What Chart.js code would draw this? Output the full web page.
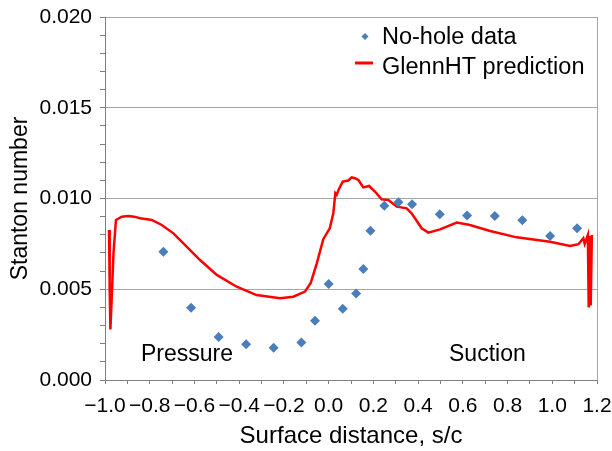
<!DOCTYPE html>
<html>
<head>
<meta charset="utf-8">
<script src="https://cdn.jsdelivr.net/npm/chart.js@4/dist/chart.umd.min.js"></script>
<style>
  html, body { margin: 0; padding: 0; background: #fff; }
  #wrap { width: 612px; height: 451px; }
</style>
</head>
<body>
<div id="wrap"><canvas id="stanton" width="612" height="451"></canvas></div>
<script>
// measured data (no-hole)
var dataS  = [-0.739, -0.615, -0.492, -0.369, -0.246, -0.122, -0.061, 0.000, 0.063, 0.123, 0.155,
              0.187, 0.249, 0.312, 0.373, 0.497, 0.619, 0.743, 0.866, 0.990, 1.111];
var dataSt = [0.00707, 0.00398, 0.00237, 0.00197, 0.00178, 0.00206, 0.00327, 0.00529, 0.00393, 0.00477, 0.00612,
              0.00823, 0.00960, 0.00979, 0.00968, 0.00913, 0.00907, 0.00904, 0.00880, 0.00793, 0.00836];

// GlennHT prediction
var lineS  = [-0.982, -0.979, -0.976, -0.970, -0.962, -0.951, -0.925, -0.896, -0.870, -0.843, -0.791, -0.746,
              -0.694, -0.635, -0.575, -0.500, -0.411, -0.322, -0.217, -0.158, -0.106, -0.080, -0.053, -0.024,
              0.005, 0.021, 0.030, 0.036, 0.045, 0.063, 0.088, 0.103, 0.118, 0.133, 0.155, 0.181, 0.208,
              0.237, 0.267, 0.305, 0.349, 0.370, 0.386, 0.416, 0.446, 0.498, 0.573, 0.632, 0.722, 0.841,
              0.990, 1.080, 1.117, 1.139, 1.145, 1.159, 1.163, 1.168, 1.172, 1.177];
var lineSt = [0.00826, 0.00500, 0.00279, 0.00450, 0.00700, 0.00882, 0.00900, 0.00904, 0.00900, 0.00891, 0.00882, 0.00854,
              0.00808, 0.00735, 0.00661, 0.00579, 0.00514, 0.00468, 0.00450, 0.00459, 0.00487, 0.00535, 0.00643, 0.00776,
              0.00836, 0.00918, 0.01029, 0.01020, 0.01050, 0.01093, 0.01099, 0.01116, 0.01112, 0.01102, 0.01061, 0.01069, 0.01037,
              0.00995, 0.00992, 0.00955, 0.00946, 0.00920, 0.00891, 0.00836, 0.00812, 0.00830, 0.00867, 0.00854, 0.00821, 0.00786,
              0.00762, 0.00738, 0.00748, 0.00781, 0.00750, 0.00799, 0.00400, 0.00795, 0.00410, 0.00799];

var seriesNames = ['No-hole data', 'GlennHT prediction'];
var sideLabels = ['Pressure', 'Suction'];

var FONT = "'Liberation Sans', Arial, Helvetica, sans-serif";
var BLUE = '#4a7ebb';
var RED = '#ff0000';

function isMult(v, step) {
    var r = v / step;
    return Math.abs(r - Math.round(r)) < 1e-6;
}

function toPoints(xs, ys) {
    return xs.map(function (x, i) { return { x: x, y: ys[i] }; });
}

// legend + the two side labels, drawn straight on the canvas
var extras = {
    id: 'extras',
    afterDraw: function (chart) {
        var c = chart.ctx;
        c.save();
        c.font = '23.5px ' + FONT;
        c.fillStyle = '#000';
        c.textBaseline = 'alphabetic';
        c.textAlign = 'left';

        // legend
        c.fillStyle = BLUE;
        c.beginPath();
        c.moveTo(365, 33); c.lineTo(368.5, 36.5); c.lineTo(365, 40); c.lineTo(361.5, 36.5);
        c.closePath();
        c.fill();
        c.fillStyle = '#000';
        c.fillText(seriesNames[0], 382, 44);

        c.strokeStyle = RED;
        c.lineWidth = 3;
        c.beginPath();
        c.moveTo(355, 63); c.lineTo(373, 63);
        c.stroke();
        c.fillText(seriesNames[1], 382, 74);

        // side labels
        c.font = '23px ' + FONT;
        c.fillText(sideLabels[0], 141, 361);
        c.fillText(sideLabels[1], 449, 361);
        c.restore();
    }
};

var ctx = document.getElementById('stanton').getContext('2d');
var myChart = new Chart(ctx, {
    type: 'scatter',
    data: {
        datasets: [{
            label: seriesNames[0],
            data: toPoints(dataS, dataSt),
            pointStyle: 'rectRot',
            pointRadius: 5,
            pointHoverRadius: 5,
            backgroundColor: BLUE,
            borderColor: BLUE,
            borderWidth: 0,
            showLine: false
        }, {
            label: seriesNames[1],
            data: toPoints(lineS, lineSt),
            showLine: true,
            borderColor: RED,
            backgroundColor: RED,
            borderWidth: 2.5,
            pointRadius: 0,
            tension: 0
        }]
    },
    options: {
        responsive: false,
        animation: false,
        layout: { padding: { left: 0, right: 15, top: 17, bottom: 0 } },
        plugins: {
            legend: { display: false },
            tooltip: { enabled: false }
        },
        scales: {
            x: {
                type: 'linear',
                min: -1.0,
                max: 1.2,
                afterFit: function (scale) {
                    scale.height = 71;
                    scale.paddingLeft = 0;
                    scale.paddingRight = 0;
                },
                border: { color: '#808080', width: 1 },
                grid: {
                    drawOnChartArea: true,
                    tickLength: 4,
                    tickColor: '#808080',
                    color: function (c) {
                        return (c.tick && Math.abs(c.tick.value - 1.2) < 1e-6) ? '#a6a6a6' : 'rgba(0,0,0,0)';
                    }
                },
                ticks: {
                    stepSize: 0.1,
                    autoSkip: false,
                    maxRotation: 0,
                    minRotation: 0,
                    padding: 10,
                    color: '#000',
                    font: { family: FONT, size: 21 },
                    callback: function (v) {
                        if (!isMult(v, 0.2)) return '';
                        return v.toFixed(1).replace('-', '\u2212');
                    }
                },
                title: {
                    display: true,
                    text: 'Surface distance, s/c',
                    color: '#000',
                    font: { family: FONT, size: 24 },
                    padding: { top: 0, bottom: 0 }
                }
            },
            y: {
                min: 0,
                max: 0.02,
                afterFit: function (scale) {
                    scale.width = 105;
                    scale.paddingTop = 0;
                    scale.paddingBottom = 0;
                },
                border: { color: '#808080', width: 1 },
                grid: {
                    tickLength: 5,
                    tickColor: '#808080',
                    color: function (c) {
                        return (c.tick && isMult(c.tick.value, 0.005)) ? '#a6a6a6' : 'rgba(0,0,0,0)';
                    }
                },
                ticks: {
                    stepSize: 0.001,
                    autoSkip: false,
                    padding: 8,
                    color: '#000',
                    font: { family: FONT, size: 21 },
                    callback: function (v) {
                        return isMult(v, 0.005) ? v.toFixed(3) : '';
                    }
                },
                title: {
                    display: true,
                    text: 'Stanton number',
                    color: '#000',
                    font: { family: FONT, size: 23 },
                    padding: { top: 7, bottom: 0 }
                }
            }
        }
    },
    plugins: [extras]
});
</script>
</body>
</html>
